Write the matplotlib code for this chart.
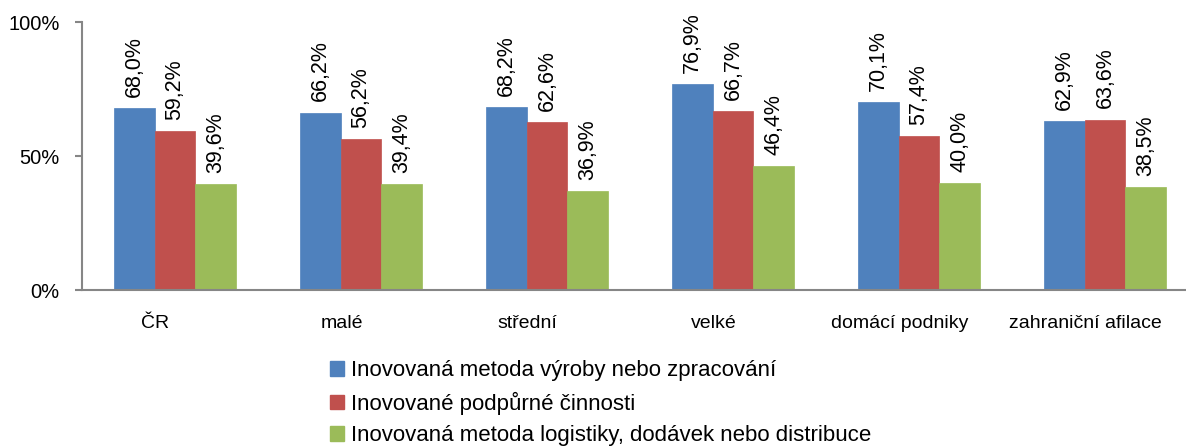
# Inovace podle velikosti a vlastnictví podniků – podíl podniků (%)

import numpy as np
import matplotlib.pyplot as plt
from matplotlib.patches import Patch

# ── data ──────────────────────────────────────────────────────────────────────
categories = ["ČR", "malé", "střední", "velké", "domácí podniky", "zahraniční afilace"]
series_names = [
    "Inovovaná metoda výroby nebo zpracování",
    "Inovované podpůrné činnosti",
    "Inovovaná metoda logistiky, dodávek nebo distribuce",
]
vyroba    = [68.0, 66.2, 68.2, 76.9, 70.1, 62.9]
podpurne  = [59.2, 56.2, 62.6, 66.7, 57.4, 63.6]
logistika = [39.6, 39.4, 36.9, 46.4, 40.0, 38.5]
y_ticks = [0, 50, 100]

colors = ["#4F81BD", "#C0504D", "#9BBB59"]
axis_grey = "#868686"

# ── plot style ────────────────────────────────────────────────────────────────
plt.rcParams.update({
    'font.family': ['Liberation Sans', 'DejaVu Sans'],
    'font.size': 14,
})

W, H = 1186, 446
fig = plt.figure(figsize=(W / 100, H / 100), dpi=100)
# axes in pixel terms: left 82, bottom y=290, top y=22, one group = 186 px
ax = fig.add_axes([82 / W, (H - 290) / H, 6 * 186 / W, 268 / H])

x = np.arange(len(categories))
width = 0.22
for i, (vals, col) in enumerate(zip([vyroba, podpurne, logistika], colors)):
    pos = x + (i - 1) * width
    bars = ax.bar(pos, vals, width, color=col, edgecolor=col, linewidth=0.5)
    for bar, v in zip(bars, vals):
        ax.annotate(f"{v:.1f}%".replace(".", ","),
                    (bar.get_x() + bar.get_width() / 2, v),
                    xytext=(0, 8), textcoords='offset points',
                    rotation=90, ha='center', va='bottom', fontsize=15.5)

ax.set_xlim(-0.5, len(categories) - 0.5)
ax.set_ylim(0, 100)
ax.set_yticks(y_ticks)
ax.set_yticklabels([f"{t}%" for t in y_ticks], fontsize=14.5)
ax.set_xticks(x - 0.105)
ax.set_xticklabels(categories, fontsize=14)
ax.tick_params(axis='x', length=0, pad=18)
ax.tick_params(axis='y', length=5, width=1.5, color=axis_grey, pad=11)

for side in ['top', 'right']:
    ax.spines[side].set_visible(False)
for side in ['left', 'bottom']:
    ax.spines[side].set_color(axis_grey)
    ax.spines[side].set_linewidth(1.5)

# ── legend ────────────────────────────────────────────────────────────────────
handles = [Patch(facecolor=c, edgecolor=c) for c in colors]
fig.legend(handles, series_names, loc='upper left',
           bbox_to_anchor=(330 / W, 1 - 360 / H), frameon=False,
           handlelength=0.65, handleheight=0.65, handletextpad=0.3,
           labelspacing=0.48, borderpad=0, borderaxespad=0, fontsize=16)

plt.savefig("out.png", dpi=100)
